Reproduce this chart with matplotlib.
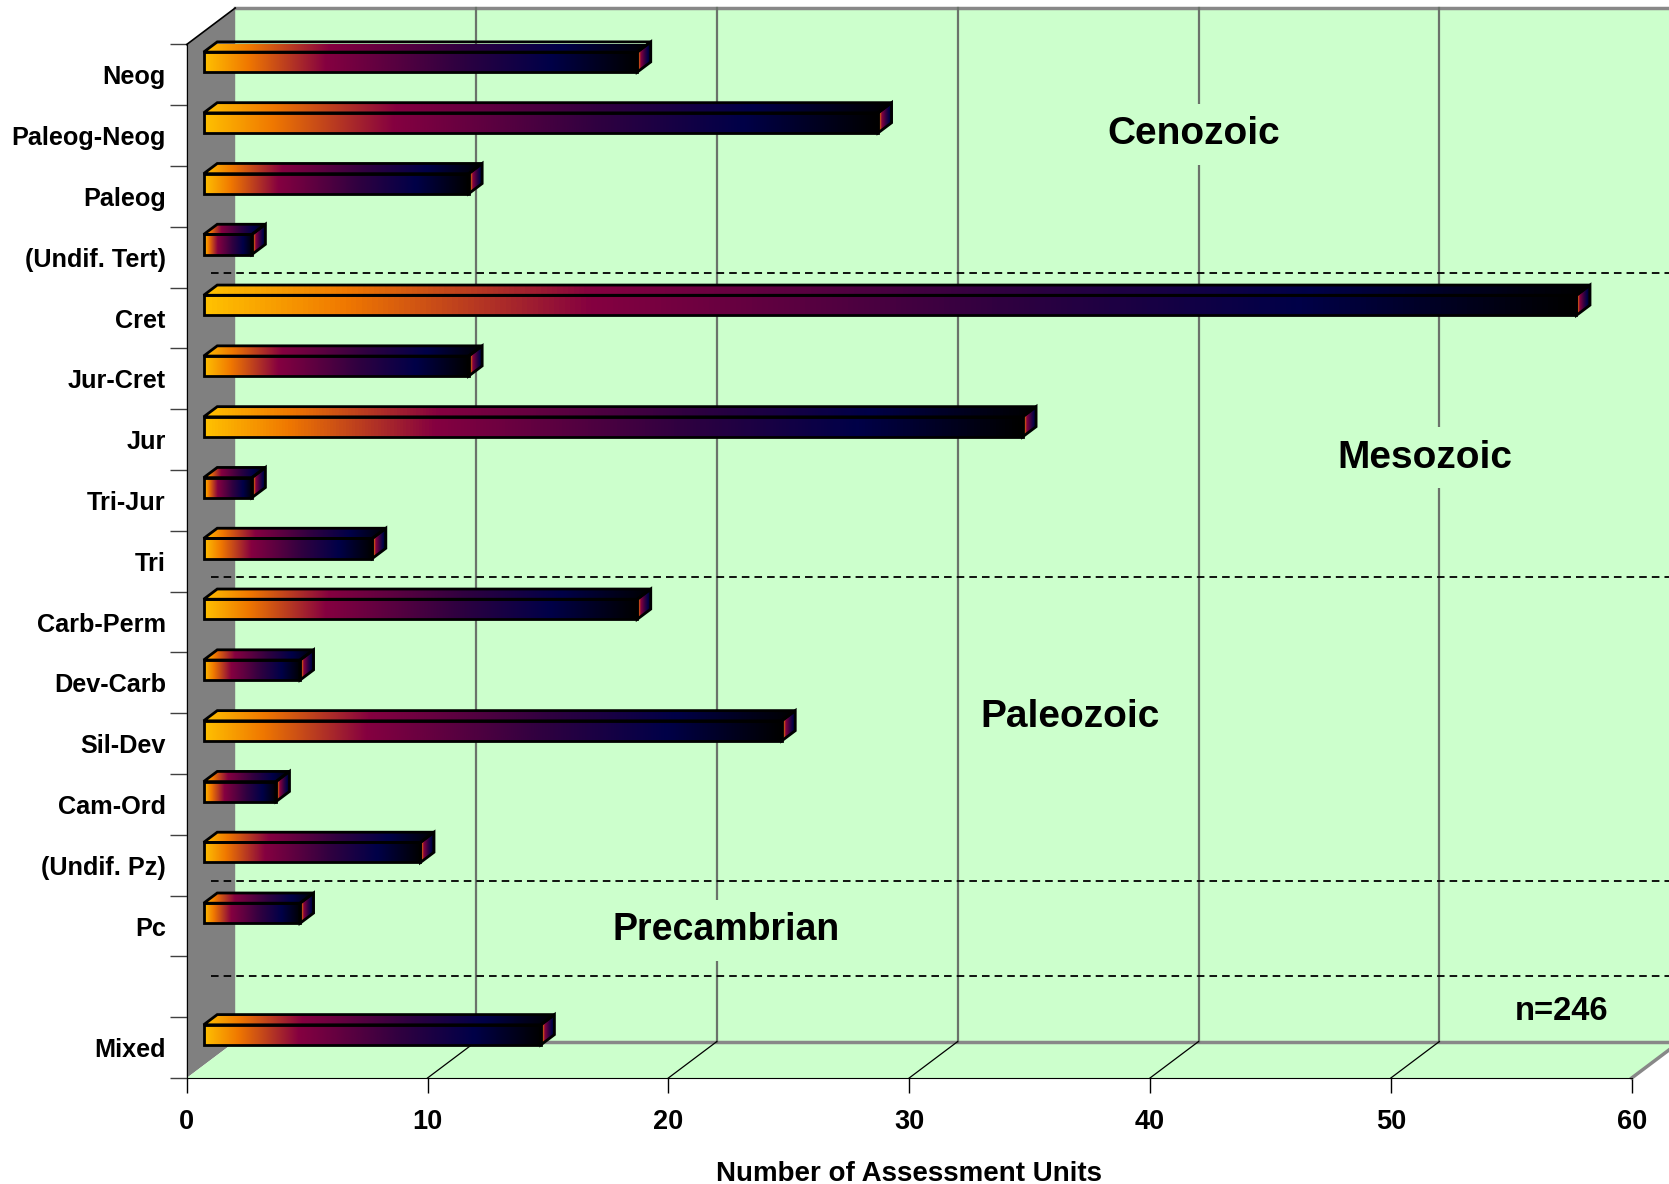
import numpy as np
import matplotlib
matplotlib.use("Agg")
import matplotlib.pyplot as plt
from matplotlib.colors import LinearSegmentedColormap
from matplotlib.patches import Polygon

# ── data ────────────────────────────────────────────────────────────────
categories = ["Neog", "Paleog-Neog", "Paleog", "(Undif. Tert)", "Cret", "Jur-Cret",
              "Jur", "Tri-Jur", "Tri", "Carb-Perm", "Dev-Carb", "Sil-Dev", "Cam-Ord",
              "(Undif. Pz)", "Pc", "", "Mixed"]
counts = [18, 28, 11, 2, 57, 11, 34, 2, 7, 18, 4, 24, 3, 9, 4, np.nan, 14]
era_names = ["Cenozoic", "Mesozoic", "Paleozoic", "Precambrian"]
era_breaks = [3.5, 8.5, 13.5, 15.07]         # row boundaries between the groups
x_ticks = [0, 10, 20, 30, 40, 50, 60]
n_total = 246

# ── style / layout ──────────────────────────────────────────────────────
plt.rcParams["font.family"] = ["Liberation Sans", "DejaVu Sans"]
plt.rcParams["font.weight"] = "bold"
WALL = "#CCFFCC"
SIDE = "#808080"
GRID = "#6B736B"
DX, DY = 2.014, -0.600        # depth of the 3D box in data units
D0, D1 = 0.35, 0.63           # depth slot taken by the bars
H = 0.33                      # bar thickness (rows)
era_pos = [(41.8, 0.98), (51.4, 6.30), (36.7, 10.57), (22.4, 14.07)]
era_size = [28, 28, 28, 27]

cmap = LinearSegmentedColormap.from_list("bar", [
    (0.0, "#FFC000"), (0.10, "#F07800"), (0.28, "#850040"),
    (0.58, "#300040"), (0.80, "#000048"), (1.0, "#000000")])
grad = np.linspace(0, 1, 256).reshape(1, -1)

fig = plt.figure(figsize=(16.69, 11.84), dpi=100)
ax = fig.add_axes([0.11186, 0.08953, 0.86579, 0.87289])
ax.set_facecolor("none")
n_rows = len(categories)
y_top, y_bot = -0.5, n_rows - 0.5

# ── walls and floor ────────────────────────────────────────────────────
x_far = 70
ax.add_patch(Polygon([(DX, y_top + DY), (x_far, y_top + DY), (x_far, y_bot + DY), (DX, y_bot + DY)],
                     facecolor=WALL, edgecolor="none", zorder=1, clip_on=False))
ax.plot([DX, x_far], [y_top + DY] * 2, color="#888888", lw=2.5, zorder=2, clip_on=False)
ax.add_patch(Polygon([(0, y_top), (DX, y_top + DY), (DX, y_bot + DY), (0, y_bot)],
                     facecolor=SIDE, edgecolor="none", zorder=1, clip_on=False))
ax.plot([0, DX], [y_top, y_top + DY], color="black", lw=1.2, zorder=2, clip_on=False)
ax.add_patch(Polygon([(0, y_bot), (x_ticks[-1], y_bot), (x_ticks[-1] + DX, y_bot + DY), (DX, y_bot + DY)],
                     facecolor=WALL, edgecolor="none", zorder=1, clip_on=False))
ax.plot([DX, x_far], [y_bot + DY] * 2, color="#888888", lw=2.5, zorder=2, clip_on=False)
ax.plot([x_ticks[-1], x_ticks[-1] + DX], [y_bot, y_bot + DY], color="#888888", lw=2.5,
        zorder=2, clip_on=False)
for xt in x_ticks[1:-1]:
    ax.plot([xt + DX] * 2, [y_top + DY, y_bot + DY], color=GRID, lw=1.6, zorder=2, clip_on=False)
    ax.plot([xt, xt + DX], [y_bot, y_bot + DY], color="black", lw=0.9, zorder=2, clip_on=False)

for b in era_breaks:
    ax.plot([0.5 * DX, x_far], [b + 0.5 * DY + 0.06] * 2, color="black", lw=1.3,
            dashes=(4.2, 2.8), zorder=3, clip_on=False)

for name, (ex, ey), fs in zip(era_names, era_pos, era_size):
    ax.text(ex, ey, name, fontsize=fs, fontweight="bold", ha="center", va="center", zorder=4,
            bbox=dict(facecolor=WALL, edgecolor="none", pad=9))
ax.text(57.1, 15.4, f"n={n_total}", fontsize=23.5, fontweight="bold", ha="center", va="center", zorder=4)

# ── 3D gradient bars ───────────────────────────────────────────────────
ddx, ddy = (D1 - D0) * DX, (D1 - D0) * DY
for i, v in enumerate(counts):
    if np.isnan(v):
        continue
    x0 = D0 * DX
    yc = i + D0 * DY
    top, bot = yc - H / 2, yc + H / 2
    front = [(x0, top), (x0 + v, top), (x0 + v, bot), (x0, bot)]
    upper = [(x0, top), (x0 + v, top), (x0 + v + ddx, top + ddy), (x0 + ddx, top + ddy)]
    side = [(x0 + v, top), (x0 + v + ddx, top + ddy), (x0 + v + ddx, bot + ddy), (x0 + v, bot)]
    for poly, (xa, xb) in [(front, (x0, x0 + v)), (upper, (x0, x0 + v + ddx)),
                           (side, (x0 + v, x0 + v + ddx))]:
        p = Polygon(poly, closed=True, facecolor="none", edgecolor="black", lw=2,
                    joinstyle="miter", zorder=6, clip_on=False)
        ax.add_patch(p)
        ys = [q[1] for q in poly]
        im = ax.imshow(grad, cmap=cmap, aspect="auto", extent=(xa, xb, max(ys), min(ys)),
                       interpolation="bilinear", zorder=5)
        im.set_clip_path(p)

# ── axes ───────────────────────────────────────────────────────────────
ax.set_xlim(x_ticks[0], x_ticks[-1])
ax.set_ylim(y_bot, y_top)
ax.set_xticks(x_ticks)
ax.set_xticklabels([str(t) for t in x_ticks], fontsize=19.5, fontweight="bold")
ax.tick_params(axis="x", direction="out", length=11, width=1, pad=11, color="black")
ax.set_yticks(range(n_rows))
ax.set_yticklabels(categories, fontsize=18.2, fontweight="bold")
ax.set_yticks(np.arange(n_rows + 1) - 0.5, minor=True)
ax.tick_params(axis="y", which="major", length=0, pad=15)
ax.tick_params(axis="y", which="minor", length=12, width=1, color="#404040")
ax.tick_params(axis="x", which="minor", length=0)
for s in ["top", "right"]:
    ax.spines[s].set_visible(False)
ax.spines["left"].set_color("black")
ax.spines["bottom"].set_color("black")
ax.spines["left"].set_zorder(3)
ax.spines["bottom"].set_zorder(3)
ax.set_xlabel("Number of Assessment Units", fontsize=20, fontweight="bold", labelpad=19)

fig.savefig("out.png", dpi=100)
